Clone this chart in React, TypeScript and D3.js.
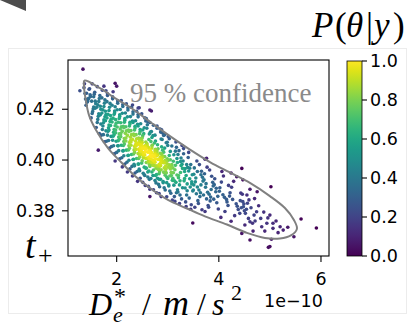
import React, { useMemo } from "react";
import * as d3 from "d3";

// ---- data -----------------------------------------------------------
const xDomain: [number, number] = [1.047, 6.157]; // units of 1e-10 m/s^2
const yDomain: [number, number] = [0.3622, 0.4394];
const xTicks = [2, 4, 6];
const yTicks = [0.38, 0.40, 0.42];
const cbTicks = [0, 0.2, 0.4, 0.6, 0.8, 1.0];

// posterior samples [D_e* (1e-10), t+]
const samples: [number, number][] = [
  [1.34,.4358],[1.28,.4273],[1.36,.4285],[1.38,.4262],[1.37,.4300],[1.39,.4240],
  [1.41,.4263],[1.45,.4243],[1.48,.4257],[1.43,.4231],[1.46,.4279],[1.42,.4228],[1.49,.4250],[1.44,.4238],[1.47,.4281],[1.40,.4216],
  [1.51,.4232],[1.55,.4209],[1.58,.4232],[1.53,.4191],[1.56,.4259],[1.52,.4183],[1.59,.4222],[1.54,.4201],[1.57,.4267],[1.50,.4166],[1.55,.4249],[1.58,.4204],[1.52,.4300],
  [1.61,.4208],[1.65,.4182],[1.68,.4212],[1.63,.4160],[1.66,.4242],[1.62,.4148],[1.69,.4200],[1.64,.4172],[1.67,.4254],[1.60,.4128],[1.65,.4231],[1.68,.4178],[1.62,.4289],[1.66,.4104],[1.63,.4218],[1.69,.4142],[1.64,.4039],
  [1.71,.4185],[1.75,.4158],[1.78,.4192],[1.73,.4134],[1.76,.4224],[1.72,.4120],[1.79,.4179],[1.74,.4147],[1.77,.4237],[1.70,.4098],[1.75,.4211],[1.78,.4155],[1.72,.4275],[1.76,.4072],[1.73,.4198],[1.79,.4115],[1.71,.4245],[1.74,.4100],[1.77,.4170],[1.75,.4291],[1.79,.4273],
  [1.81,.4166],[1.85,.4138],[1.88,.4175],[1.83,.4113],[1.86,.4208],[1.82,.4098],[1.89,.4161],[1.84,.4127],[1.87,.4223],[1.80,.4074],[1.85,.4195],[1.88,.4136],[1.82,.4261],[1.86,.4047],[1.83,.4180],[1.89,.4093],[1.81,.4230],[1.84,.4077],[1.87,.4152],[1.85,.4118],[1.82,.4254],
  [1.91,.4150],[1.95,.4120],[1.98,.4159],[1.93,.4094],[1.96,.4193],[1.92,.4078],[1.99,.4145],[1.94,.4109],[1.97,.4210],[1.90,.4053],[1.95,.4180],[1.98,.4118],[1.92,.4249],[1.96,.4026],[1.93,.4165],[1.99,.4074],[1.91,.4216],[1.94,.4056],[1.97,.4135],[1.95,.4100],[1.92,.4241],[1.98,.4107],[1.96,.4186],[1.97,.4302],[1.93,.4269],[1.97,.3996],
  [2.01,.4130],[2.05,.4103],[2.08,.4147],[2.03,.4076],[2.06,.4178],[2.02,.4056],[2.09,.4131],[2.04,.4091],[2.07,.4199],[2.00,.4030],[2.05,.4164],[2.08,.4104],[2.02,.4233],[2.06,.4005],[2.03,.4149],[2.09,.4058],[2.01,.4198],[2.04,.4037],[2.07,.4122],[2.05,.4082],[2.02,.4224],[2.08,.4092],[2.06,.4171],[2.03,.4056],[2.09,.4234],[2.00,.4291],
  [2.11,.4113],[2.15,.4085],[2.18,.4131],[2.13,.4057],[2.16,.4163],[2.12,.4036],[2.19,.4115],[2.14,.4073],[2.17,.4185],[2.10,.4009],[2.15,.4149],[2.18,.4087],[2.12,.4219],[2.16,.3984],[2.13,.4133],[2.19,.4039],[2.11,.4184],[2.14,.4017],[2.17,.4105],[2.15,.4063],[2.12,.4211],[2.18,.4075],[2.16,.4156],[2.13,.4037],[2.19,.4221],[2.11,.3973],[2.14,.4127],
  [2.21,.4097],[2.25,.4069],[2.28,.4116],[2.23,.4040],[2.26,.4149],[2.22,.4018],[2.29,.4100],[2.24,.4056],[2.27,.4171],[2.20,.3991],[2.25,.4134],[2.28,.4071],[2.22,.4206],[2.26,.3965],[2.23,.4118],[2.29,.4022],[2.21,.4170],[2.24,.3999],[2.27,.4090],[2.25,.4046],[2.22,.4197],[2.28,.4058],[2.26,.4142],[2.23,.4019],[2.29,.4208],[2.21,.3953],[2.24,.4112],[2.27,.4077],
  [2.31,.4081],[2.35,.4053],[2.38,.4100],[2.33,.4024],[2.36,.4133],[2.32,.4002],[2.39,.4084],[2.34,.4040],[2.37,.4155],[2.30,.3975],[2.35,.4118],[2.38,.4055],[2.32,.4190],[2.36,.3949],[2.33,.4102],[2.39,.4006],[2.31,.4154],[2.34,.3983],[2.37,.4074],[2.35,.4030],[2.32,.4181],[2.38,.4042],[2.36,.4126],[2.33,.4003],[2.39,.4192],[2.31,.3937],[2.34,.4096],[2.37,.4061],[2.35,.3977],[2.32,.4148],[2.31,.4217],
  [2.41,.4066],[2.45,.4036],[2.48,.4085],[2.43,.4006],[2.46,.4120],[2.42,.3984],[2.49,.4068],[2.44,.4023],[2.47,.4143],[2.40,.3955],[2.45,.4104],[2.48,.4038],[2.42,.4179],[2.46,.3928],[2.43,.4087],[2.49,.3988],[2.41,.4141],[2.44,.3964],[2.47,.4058],[2.45,.4013],[2.42,.4170],[2.48,.4025],[2.46,.4112],[2.43,.3984],[2.49,.4182],[2.41,.3916],[2.44,.4081],[2.47,.4045],[2.45,.3958],[2.42,.4134],[2.42,.4205],[2.44,.4206],
  [2.41,.4062],[2.43,.4042],[2.45,.4072],[2.47,.4022],[2.49,.4078],[2.42,.4026],[2.44,.4062],[2.46,.4049],[2.48,.4061],[2.45,.4036],
  [2.56,.4050],[2.52,.4020],[2.50,.4069],[2.58,.3990],[2.53,.4104],[2.57,.3968],[2.51,.4052],[2.59,.4007],[2.54,.4127],[2.55,.3939],[2.50,.4088],[2.53,.4022],[2.58,.4163],[2.51,.3912],[2.57,.4071],[2.54,.3972],[2.59,.4125],[2.52,.3948],[2.56,.4042],[2.50,.3997],[2.57,.4154],[2.53,.4009],[2.51,.4096],[2.58,.3968],[2.55,.4166],[2.56,.3900],[2.59,.4065],[2.52,.4029],[2.54,.3942],[2.51,.4118],
  [2.51,.4046],[2.53,.4026],[2.55,.4056],[2.57,.4006],[2.59,.4062],[2.52,.4010],[2.54,.4046],[2.56,.4033],[2.58,.4045],[2.55,.4020],
  [2.63,.4035],[2.67,.4005],[2.60,.4054],[2.65,.3975],[2.69,.4089],[2.61,.3953],[2.66,.4037],[2.62,.3992],[2.68,.4112],[2.64,.3924],[2.67,.4073],[2.60,.4007],[2.65,.4148],[2.62,.3897],[2.69,.4056],[2.63,.3957],[2.66,.4110],[2.61,.3933],[2.68,.4027],[2.64,.3982],[2.60,.4139],[2.66,.3994],[2.63,.4081],[2.69,.3953],[2.61,.4151],[2.65,.3885],[2.62,.4050],[2.68,.4014],[2.67,.3927],[2.64,.4103],
  [2.61,.4031],[2.63,.4011],[2.65,.4041],[2.67,.3991],[2.69,.4047],[2.62,.3995],[2.64,.4031],[2.66,.4018],[2.68,.4030],[2.65,.4005],
  [2.65,.4197],[2.68,.4193],[2.65,.3856],
  [2.74,.4021],[2.70,.3991],[2.78,.4040],[2.72,.3961],[2.76,.4075],[2.71,.3939],[2.79,.4023],[2.73,.3978],[2.75,.4098],[2.77,.3910],[2.70,.4059],[2.74,.3993],[2.79,.4134],[2.72,.3883],[2.76,.4042],[2.78,.3943],[2.71,.4096],[2.75,.3919],[2.73,.4013],[2.77,.3968],[2.79,.4125],[2.70,.3980],[2.74,.4067],[2.76,.3939],[2.72,.4137],[2.78,.3871],[2.75,.4036],[2.71,.4000],
  [2.71,.4017],[2.73,.3997],[2.75,.4027],[2.77,.3977],[2.79,.4033],[2.72,.3981],[2.74,.4017],[2.76,.4004],[2.78,.4016],[2.75,.3991],
  [2.85,.4006],[2.81,.3976],[2.88,.4025],[2.83,.3946],[2.80,.4060],[2.86,.3924],[2.89,.4008],[2.82,.3963],[2.87,.4083],[2.84,.3895],[2.81,.4044],[2.86,.3978],[2.88,.4119],[2.83,.3868],[2.85,.4027],[2.80,.3928],[2.89,.4081],[2.82,.3904],[2.87,.3998],[2.84,.3953],[2.86,.4110],[2.81,.3965],[2.88,.4052],[2.83,.3924],[2.85,.4122],[2.87,.3856],[2.80,.4021],
  [2.81,.4002],[2.83,.3982],[2.85,.4012],[2.87,.3962],[2.89,.4018],[2.82,.3966],[2.84,.4002],[2.86,.3989],[2.88,.4001],[2.85,.3976],
  [2.92,.3993],[2.96,.3963],[2.90,.4012],[2.98,.3933],[2.94,.4047],[2.91,.3911],[2.97,.3995],[2.93,.3950],[2.99,.4070],[2.95,.3882],[2.92,.4031],[2.96,.3965],[2.90,.4106],[2.98,.3855],[2.94,.4014],[2.91,.3915],[2.97,.4068],[2.93,.3891],[2.99,.3985],[2.95,.3940],[2.92,.4097],[2.96,.3952],[2.90,.4039],[2.98,.3911],[2.94,.4100],
  [2.91,.3989],[2.93,.3969],[2.95,.3999],[2.97,.3949],[2.99,.4005],[2.92,.3953],[2.94,.3989],[2.96,.3976],
  [3.03,.3980],[3.07,.3950],[3.01,.3999],[3.09,.3920],[3.05,.4034],[3.02,.3898],[3.08,.3982],[3.04,.3937],[3.00,.4057],[3.06,.3869],[3.03,.4018],[3.07,.3952],[3.01,.4093],[3.09,.3842],[3.05,.4001],[3.02,.3902],[3.08,.4055],[3.04,.3878],[3.06,.3972],[3.00,.3927],[3.03,.4084],[3.07,.3939],
  [3.01,.3972],[3.03,.3980],[3.05,.3965],[3.07,.3978],
  [3.14,.3962],[3.18,.3941],[3.11,.3995],[3.16,.3912],[3.12,.4021],[3.19,.3883],[3.15,.3979],[3.10,.3928],[3.17,.4050],[3.13,.3856],[3.18,.4006],[3.11,.3950],[3.16,.4071],[3.14,.3837],[3.19,.3990],[3.12,.3901],[3.15,.4035],[3.17,.3871],[3.10,.3969],[3.13,.3918],
  [3.25,.3951],[3.21,.3930],[3.28,.3983],[3.23,.3902],[3.26,.4008],[3.20,.3874],[3.29,.3967],[3.24,.3918],[3.22,.4037],[3.27,.3847],[3.25,.3994],[3.21,.3939],[3.28,.4057],[3.23,.3829],[3.26,.3978],[3.29,.3891],[3.20,.4022],[3.24,.3862],
  [3.36,.3939],[3.32,.3918],[3.39,.3971],[3.34,.3890],[3.30,.3996],[3.37,.3862],[3.33,.3955],[3.38,.3906],[3.31,.4025],[3.35,.3835],[3.37,.3982],[3.33,.3927],[3.31,.4045],[3.36,.3817],[3.34,.3966],[3.38,.3879],
  [3.43,.3926],[3.47,.3906],[3.41,.3957],[3.49,.3878],[3.45,.3982],[3.42,.3850],[3.48,.3942],[3.44,.3894],[3.40,.4010],[3.46,.3824],[3.43,.3968],[3.47,.3914],[3.41,.4030],[3.45,.3806],[3.49,.3752],
  [3.54,.3914],[3.58,.3894],[3.51,.3944],[3.56,.3867],[3.52,.3969],[3.59,.3840],[3.55,.3929],[3.50,.3882],[3.57,.3996],[3.53,.3814],[3.58,.3955],[3.51,.3902],
  [3.65,.3902],[3.61,.3882],[3.68,.3932],[3.63,.3856],[3.66,.3956],[3.60,.3829],[3.69,.3917],[3.64,.3871],[3.62,.3982],[3.67,.3804],[3.65,.3942],
  [3.74,.3893],[3.78,.3873],[3.71,.3922],[3.76,.3847],[3.72,.3946],[3.79,.3821],[3.75,.3907],[3.70,.3862],[3.77,.3972],[3.73,.3797],[3.73,.4003],[3.76,.4007],
  [3.85,.3884],[3.81,.3865],[3.88,.3912],[3.83,.3839],[3.86,.3936],[3.80,.3814],[3.89,.3898],[3.84,.3854],[3.82,.3961],
  [3.94,.3875],[3.98,.3857],[3.91,.3903],[3.96,.3832],[3.92,.3926],[3.99,.3807],[3.95,.3889],[3.90,.3846],
  [4.08,.3863],[4.15,.3845],[4.02,.3891],[4.18,.3821],[4.05,.3913],[4.12,.3797],[4.01,.3877],[4.16,.3835],[4.09,.3937],[4.04,.3774],[4.19,.3900],[4.11,.3853],[4.06,.3955],
  [4.27,.3845],[4.34,.3828],[4.22,.3871],[4.38,.3805],[4.25,.3893],[4.31,.3781],[4.21,.3858],[4.36,.3818],[4.29,.3916],[4.24,.3759],[4.24,.3949],[4.35,.3934],
  [4.45,.3967],[4.47,.3922],[4.42,.3840],[4.44,.3812],[4.46,.3865],[4.49,.3827],[4.47,.3836],[4.48,.3816],[4.54,.3806],[4.41,.3790],[4.43,.3870],[4.50,.3800],
  [4.59,.3843],[4.61,.3757],[4.66,.3751],[4.51,.3744],[4.45,.3711],[4.61,.3685],[4.52,.3790],[4.56,.3830],[4.58,.3770],[4.55,.3862],
  [4.74,.3796],[4.69,.3783],[4.67,.3720],[4.84,.3737],[4.94,.3751],[4.90,.3720],[4.75,.3875],[4.61,.3885],[4.63,.3812],[4.71,.3760],[4.78,.3820],[4.70,.3848],
  [5.00,.3783],[4.96,.3772],[5.03,.3688],[4.97,.3656],[5.02,.3895],[4.88,.3795],[4.82,.3770],
  [5.06,.3751],[5.20,.3737],[5.06,.3731],[5.26,.3724],[5.16,.3714],[5.00,.3659],[5.12,.3760],
  [5.47,.3698],[5.61,.3768],[5.91,.3732],[5.35,.3735],
];

// 95 % confidence contour
const contour: [number, number][] = [
  [1.370,.4313],[1.673,.4283],[1.967,.4244],[2.299,.4203],[2.652,.4151],[3.043,.4094],[3.434,.4041],
  [3.826,.3992],[4.217,.3951],[4.609,.3910],[5.000,.3858],[5.294,.3811],[5.470,.3764],[5.529,.3729],
  [5.411,.3703],[5.196,.3691],[4.902,.3693],[4.550,.3713],[4.159,.3746],[3.728,.3778],[3.376,.3809],
  [3.004,.3843],[2.691,.3884],[2.358,.3937],[2.084,.3992],[1.830,.4047],[1.595,.4118],[1.458,.4177],
  [1.389,.4244],[1.360,.4291],
];

// ---- layout ---------------------------------------------------------
const PL = 68, PR = 329, PT = 60, PB = 256;
const CBX = 347, CBW = 15, CBT = 61, CBB = 256;
const SANS = "DejaVu Sans, sans-serif";
const SERIF = "Liberation Serif, serif";
const BW_SCALE = 1.5; // kernel bandwidth relative to Scott's rule

function kdeNormalized(pts: [number, number][]): number[] {
  const n = pts.length;
  const mx = d3.mean(pts, p => p[0]) as number;
  const my = d3.mean(pts, p => p[1]) as number;
  let sxx = 0, syy = 0, sxy = 0;
  for (const p of pts) {
    const dx = p[0] - mx, dy = p[1] - my;
    sxx += dx * dx; syy += dy * dy; sxy += dx * dy;
  }
  sxx /= n - 1; syy /= n - 1; sxy /= n - 1;
  const f2 = Math.pow(n, -1 / 3) * BW_SCALE * BW_SCALE;
  const a = sxx * f2, b = sxy * f2, c = syy * f2;
  const det = a * c - b * b;
  const ia = c / det, ib = -b / det, ic = a / det;
  const dens = pts.map(p => {
    let s = 0;
    for (const q of pts) {
      const dx = p[0] - q[0], dy = p[1] - q[1];
      s += Math.exp(-0.5 * (ia * dx * dx + 2 * ib * dx * dy + ic * dy * dy));
    }
    return s;
  });
  const mn = d3.min(dens) as number, mxd = d3.max(dens) as number;
  return dens.map(d => (d - mn) / (mxd - mn));
}

export default function App() {
  const x = d3.scaleLinear().domain(xDomain).range([PL, PR]);
  const y = d3.scaleLinear().domain(yDomain).range([PB, PT]);
  const cb = d3.scaleLinear().domain([0, 1]).range([CBB, CBT]);

  const pts = useMemo(() => {
    const d = kdeNormalized(samples);
    return samples.map((p, i) => ({ p, c: d[i] })).sort((a, b) => a.c - b.c);
  }, []);

  const line = d3.line<[number, number]>()
    .x(d => x(d[0]))
    .y(d => y(d[1]))
    .curve(d3.curveCatmullRomClosed.alpha(0.5));

  const stops = d3.range(0, 1.0001, 0.05);

  return (
    <svg width={413} height={322} style={{ position: "absolute", left: 0, top: 0, background: "#fff" }}>
      <defs>
        <linearGradient id="vir" x1="0" y1="1" x2="0" y2="0">
          {stops.map(s => (
            <stop key={s} offset={s} stopColor={d3.interpolateViridis(s)} />
          ))}
        </linearGradient>
        <clipPath id="plotclip">
          <rect x={PL} y={PT} width={PR - PL} height={PB - PT} />
        </clipPath>
      </defs>
      <rect x={0} y={0} width={413} height={322} fill="#fff" />
      <rect x={8.5} y={48.5} width={398} height={265} fill="none" stroke="#ececec" strokeWidth={1} />
      <polygon points="0,0 26,0 26,11" fill="#4d4d4d" />

      {/* scatter */}
      <g clipPath="url(#plotclip)">
        {pts.map((d, i) => (
          <circle key={i} cx={x(d.p[0])} cy={y(d.p[1])} r={1.8} fill={d3.interpolateViridis(d.c)} />
        ))}
        <path d={line(contour) as string} fill="none" stroke="#808080" strokeWidth={2} />
      </g>
      <text x={130} y={102} fontFamily={SERIF} fontSize={27} fill="#8a8a8a">95 % confidence</text>

      {/* frame */}
      <rect x={PL} y={PT} width={PR - PL} height={PB - PT} fill="none" stroke="#000" strokeWidth={1.1} />

      {/* y axis */}
      {yTicks.map(t => (
        <g key={t}>
          <line x1={PL - 6} x2={PL} y1={y(t)} y2={y(t)} stroke="#000" strokeWidth={1.1} />
          <text x={PL - 13} y={y(t) + 6} textAnchor="end" fontFamily={SANS} fontSize={17.5}>{t.toFixed(2)}</text>
        </g>
      ))}
      {/* x axis */}
      {xTicks.map(t => (
        <g key={t}>
          <line x1={x(t)} x2={x(t)} y1={PB} y2={PB + 6} stroke="#000" strokeWidth={1.1} />
          <text x={x(t)} y={285} textAnchor="middle" fontFamily={SANS} fontSize={17.5}>{t}</text>
        </g>
      ))}
      <text x={264} y={307} fontFamily={SANS} fontSize={17.5}>1e−10</text>

      {/* x label */}
      <text fontFamily={SERIF} fontSize={32}>
        <tspan x={89} y={315} fontStyle="italic">D</tspan>
        <tspan x={114} y={304} fontSize={24}>*</tspan>
        <tspan x={113} y={322} fontSize={22} fontStyle="italic">e</tspan>
        <tspan x={142} y={315}>/</tspan>
        <tspan x={163} y={315} fontStyle="italic" fontSize={36}>m</tspan>
        <tspan x={197} y={315}>/</tspan>
        <tspan x={212} y={315} fontStyle="italic">s</tspan>
        <tspan x={231} y={300} fontSize={22}>2</tspan>
      </text>

      {/* y label */}
      <text fontFamily={SERIF} fontSize={38}>
        <tspan x={25} y={258} fontStyle="italic">t</tspan>
        <tspan x={38} y={264} fontSize={26}>+</tspan>
      </text>

      {/* colorbar */}
      <rect x={CBX} y={CBT} width={CBW} height={CBB - CBT} fill="url(#vir)" stroke="#000" strokeWidth={0.8} />
      {cbTicks.map(t => (
        <g key={t}>
          <line x1={CBX + CBW} x2={CBX + CBW + 5} y1={cb(t)} y2={cb(t)} stroke="#000" strokeWidth={1.1} />
          <text x={CBX + CBW + 8} y={cb(t) + 6} fontFamily={SANS} fontSize={17.5}>{t.toFixed(1)}</text>
        </g>
      ))}
      <text fontFamily={SERIF} fontSize={35}>
        <tspan x={312} y={37} fontStyle="italic">P</tspan>
        <tspan x={335} y={37}>(</tspan>
        <tspan x={346} y={37} fontStyle="italic">θ</tspan>
        <tspan x={366} y={37}>|</tspan>
        <tspan x={374} y={37} fontStyle="italic">y</tspan>
        <tspan x={393} y={37}>)</tspan>
      </text>
    </svg>
  );
}
